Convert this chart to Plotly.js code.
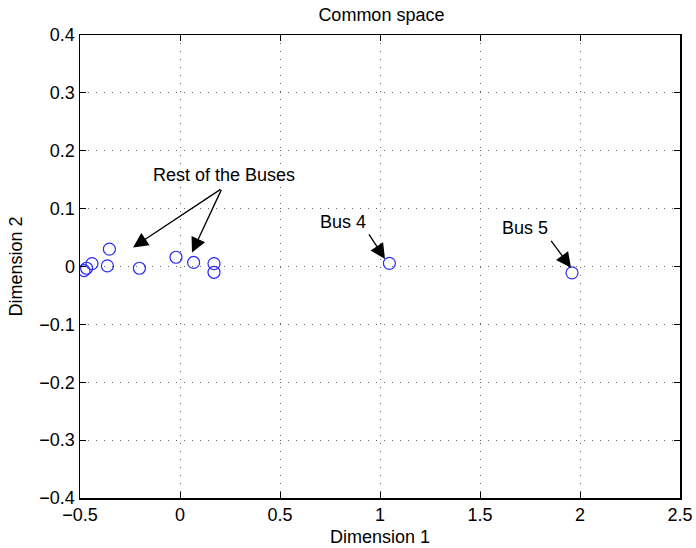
<!DOCTYPE html>
<html>
<head>
<meta charset="utf-8">
<script src="https://cdn.plot.ly/plotly-3.0.1.min.js"></script>
<style>html,body{margin:0;padding:0;background:#fff;}#chart{width:696px;height:548px;}</style>
</head>
<body>
<div id="chart"></div>
<script>
// Bus positions in the common space
const busNames = ['Bus 1','Bus 2','Bus 3','Bus 4','Bus 5','Bus 6','Bus 7','Bus 8','Bus 9','Bus 10','Bus 11','Bus 12'];
const dim1 = [-0.48, -0.467, -0.44, 1.047, 1.96, -0.353, -0.363, -0.203, -0.02, 0.068, 0.17, 0.17];
const dim2 = [-0.007, -0.003, 0.005, 0.0055, -0.011, 0.030, 0.001, -0.003, 0.016, 0.007, 0.005, -0.010];

const xTicks = [-0.5, 0, 0.5, 1, 1.5, 2, 2.5];
const xTickText = ['\u22120.5', '0', '0.5', '1', '1.5', '2', '2.5'];
const yTicks = [-0.4, -0.3, -0.2, -0.1, 0, 0.1, 0.2, 0.3, 0.4];
const yTickText = ['\u22120.4', '\u22120.3', '\u22120.2', '\u22120.1', '0', '0.1', '0.2', '0.3', '0.4'];

// Callout labels and arrows: [text, textX, textY, arrowTailX, arrowTailY, headX, headY]
const callouts = [
  ['Bus 4', 0.815, 0.077, 0.94, 0.058, 1.025, 0.013],
  ['Bus 5', 1.725, 0.067, 1.85, 0.047, 1.955, -0.002],
];
const restLabel = ['Rest of the Buses', 0.22, 0.158];
const restArrows = [
  [0.21, 0.135, -0.235, 0.033],
  [0.21, 0.135, 0.06, 0.024],
];

const FONT = 'Liberation Sans, Arial, Helvetica, sans-serif';

const axisCommon = {
  showline: true, linecolor: '#000', linewidth: 1.5, mirror: 'allticks',
  ticks: 'inside', ticklen: 6, tickcolor: '#000', tickwidth: 1,
  showgrid: true, gridcolor: '#666', griddash: '1px,7px', gridwidth: 1,
  zeroline: false, tickmode: 'array',
  tickfont: {family: FONT, size: 18, color: '#000'}
};

const annotations = [];
const arrowStyle = {showarrow: true, arrowhead: 2, arrowsize: 2.3, arrowwidth: 1.3, arrowcolor: '#000'};
callouts.forEach(c => {
  annotations.push({x: c[1], y: c[2], xref: 'x', yref: 'y', text: c[0], showarrow: false,
    font: {family: FONT, size: 18, color: '#000'}});
  annotations.push(Object.assign({x: c[5], y: c[6], ax: c[3], ay: c[4], axref: 'x', ayref: 'y',
    xref: 'x', yref: 'y', text: ''}, arrowStyle));
});
annotations.push({x: restLabel[1], y: restLabel[2], xref: 'x', yref: 'y', text: restLabel[0], showarrow: false,
  font: {family: FONT, size: 18, color: '#000'}});
restArrows.forEach(a => {
  annotations.push(Object.assign({x: a[2], y: a[3], ax: a[0], ay: a[1], axref: 'x', ayref: 'y',
    xref: 'x', yref: 'y', text: ''}, arrowStyle));
});

const data = [{
  x: dim1, y: dim2, text: busNames, type: 'scatter', mode: 'markers',
  marker: {symbol: 'circle-open', size: 12, color: '#2b2bf5', line: {width: 1.2}},
  hoverinfo: 'text+x+y'
}];

const layout = {
  width: 696, height: 548,
  margin: {l: 80, r: 16, t: 35, b: 50},
  paper_bgcolor: '#fff', plot_bgcolor: '#fff',
  showlegend: false,
  title: {text: 'Common space', x: 0.548, xanchor: 'center', y: 0.973, yanchor: 'middle',
    font: {family: FONT, size: 18, color: '#000'}},
  xaxis: Object.assign({}, axisCommon, {range: [-0.5, 2.5], tickvals: xTicks, ticktext: xTickText,
    title: {text: 'Dimension 1', standoff: 6, font: {family: FONT, size: 18, color: '#000'}}}),
  yaxis: Object.assign({}, axisCommon, {range: [-0.4, 0.4], tickvals: yTicks, ticktext: yTickText,
    title: {text: 'Dimension 2', standoff: 12, font: {family: FONT, size: 18, color: '#000'}}}),
  annotations: annotations
};

Plotly.newPlot('chart', data, layout, {displayModeBar: false, staticPlot: true});
</script>
</body>
</html>
